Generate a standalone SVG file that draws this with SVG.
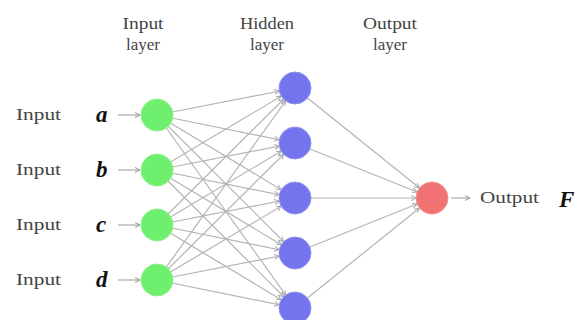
<svg xmlns="http://www.w3.org/2000/svg" width="577" height="320" viewBox="0 0 577 320">
<style>
.lbl{font-family:"Liberation Serif","DejaVu Serif",serif;font-size:16px;fill:#444;text-anchor:middle}
.inl{font-family:"Liberation Serif","DejaVu Serif",serif;font-size:16px;fill:#444}
.var{font-family:"Liberation Serif","DejaVu Serif",serif;font-size:23px;font-weight:bold;font-style:italic;fill:#111}
.e{stroke:#b4b4b4;stroke-width:1.2;fill:none;marker-end:url(#ah)}
.s{stroke:#999;stroke-width:1;fill:none;marker-end:url(#as)}
.in{fill:#6ef06e;stroke:#8cf08c;stroke-width:1}
.hid{fill:#7474ee;stroke:#9090f0;stroke-width:1}
.out{fill:#f07272;stroke:#f49090;stroke-width:1}
</style>
<defs>
<marker id="ah" markerWidth="30" markerHeight="10" refX="21" refY="5" orient="auto" markerUnits="userSpaceOnUse"><path d="M0,2.5 L5,5 L0,7.5" fill="none" stroke="#aaa" stroke-width="1"/></marker>
<marker id="as" markerWidth="10" markerHeight="10" refX="5" refY="5" orient="auto" markerUnits="userSpaceOnUse"><path d="M0,2.5 L5,5 L0,7.5" fill="none" stroke="#999" stroke-width="1"/></marker>
</defs>
<rect width="577" height="320" fill="#fff"/>
<g id="titles">
<text class="lbl" x="143" y="29" textLength="41" lengthAdjust="spacingAndGlyphs">Input</text><text class="lbl" x="143" y="50" textLength="34" lengthAdjust="spacingAndGlyphs">layer</text>
<text class="lbl" x="267" y="29" textLength="54" lengthAdjust="spacingAndGlyphs">Hidden</text><text class="lbl" x="267" y="50" textLength="34" lengthAdjust="spacingAndGlyphs">layer</text>
<text class="lbl" x="390" y="29" textLength="54" lengthAdjust="spacingAndGlyphs">Output</text><text class="lbl" x="390" y="50" textLength="34" lengthAdjust="spacingAndGlyphs">layer</text>
</g>
<g id="connectors">
<line class="s" x1="118" y1="115" x2="140" y2="115"/>
<line class="s" x1="118" y1="170" x2="140" y2="170"/>
<line class="s" x1="118" y1="225" x2="140" y2="225"/>
<line class="s" x1="118" y1="280" x2="140" y2="280"/>
<line class="s" x1="451" y1="198" x2="470" y2="198"/>
<line class="e" x1="157" y1="115" x2="295" y2="88"/><line class="e" x1="157" y1="115" x2="295" y2="143"/><line class="e" x1="157" y1="115" x2="295" y2="198"/><line class="e" x1="157" y1="115" x2="295" y2="253"/><line class="e" x1="157" y1="115" x2="295" y2="308"/>
<line class="e" x1="157" y1="170" x2="295" y2="88"/><line class="e" x1="157" y1="170" x2="295" y2="143"/><line class="e" x1="157" y1="170" x2="295" y2="198"/><line class="e" x1="157" y1="170" x2="295" y2="253"/><line class="e" x1="157" y1="170" x2="295" y2="308"/>
<line class="e" x1="157" y1="225" x2="295" y2="88"/><line class="e" x1="157" y1="225" x2="295" y2="143"/><line class="e" x1="157" y1="225" x2="295" y2="198"/><line class="e" x1="157" y1="225" x2="295" y2="253"/><line class="e" x1="157" y1="225" x2="295" y2="308"/>
<line class="e" x1="157" y1="280" x2="295" y2="88"/><line class="e" x1="157" y1="280" x2="295" y2="143"/><line class="e" x1="157" y1="280" x2="295" y2="198"/><line class="e" x1="157" y1="280" x2="295" y2="253"/><line class="e" x1="157" y1="280" x2="295" y2="308"/>
<line class="e" x1="295" y1="88" x2="432" y2="198"/><line class="e" x1="295" y1="143" x2="432" y2="198"/><line class="e" x1="295" y1="198" x2="432" y2="198"/><line class="e" x1="295" y1="253" x2="432" y2="198"/><line class="e" x1="295" y1="308" x2="432" y2="198"/>
</g>
<g id="inputs-text">
<text class="inl" x="16" y="120" textLength="45" lengthAdjust="spacingAndGlyphs">Input</text><text class="var" x="96" y="122">a</text>
<text class="inl" x="16" y="175" textLength="45" lengthAdjust="spacingAndGlyphs">Input</text><text class="var" x="96" y="177">b</text>
<text class="inl" x="16" y="230" textLength="45" lengthAdjust="spacingAndGlyphs">Input</text><text class="var" x="96" y="232">c</text>
<text class="inl" x="16" y="285" textLength="45" lengthAdjust="spacingAndGlyphs">Input</text><text class="var" x="96" y="287">d</text>
<text class="inl" x="480" y="203" textLength="59" lengthAdjust="spacingAndGlyphs">Output</text><text class="var" x="559" y="207">F</text>
</g>
<g id="in-a"><circle class="in" cx="157" cy="115" r="16"/></g>
<g id="in-b"><circle class="in" cx="157" cy="170" r="16"/></g>
<g id="in-c"><circle class="in" cx="157" cy="225" r="16"/></g>
<g id="in-d"><circle class="in" cx="157" cy="280" r="16"/></g>
<g id="h1"><circle class="hid" cx="295" cy="88" r="16"/></g>
<g id="h2"><circle class="hid" cx="295" cy="143" r="16"/></g>
<g id="h3"><circle class="hid" cx="295" cy="198" r="16"/></g>
<g id="h4"><circle class="hid" cx="295" cy="253" r="16"/></g>
<g id="h5"><circle class="hid" cx="295" cy="308" r="16"/></g>
<g id="out"><circle class="out" cx="432" cy="198" r="16"/></g>
</svg>
